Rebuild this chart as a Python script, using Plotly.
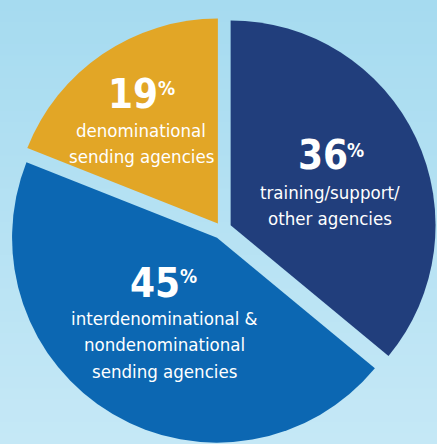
import plotly.graph_objects as go

# ---- data ----
categories = ["training/support/other agencies",
              "interdenominational & nondenominational sending agencies",
              "denominational sending agencies"]
values = [36, 45, 19]
pct_labels = ["36", "45", "19"]
desc_lines = [["training/support/", "other agencies"],
              ["interdenominational &", "nondenominational", "sending agencies"],
              ["denominational", "sending agencies"]]
colors = ["#213e7c", "#0c67b2", "#e2a626"]

W, H = 437, 444
FONT = "Liberation Sans Narrow, DejaVu Sans Condensed, Arial Narrow, sans-serif"

fig = go.Figure(go.Pie(
    labels=categories, values=values, sort=False,
    direction="clockwise", rotation=0,
    marker=dict(colors=colors, line=dict(width=0)),
    pull=[0.047, 0.047, 0.035], textinfo="none", hoverinfo="label+percent",
    showlegend=False,
    domain=dict(x=[6.8 / W, 1.0], y=[0.0, 0.9665]),
))

# background gradient
top = (166, 219, 240)
bot = (197, 232, 246)
n = 40
shapes = []
for i in range(n):
    t = i / (n - 1)
    c = tuple(int(round(top[k] + (bot[k] - top[k]) * t)) for k in range(3))
    shapes.append(dict(type="rect", xref="paper", yref="paper",
                       x0=0, x1=1, y0=1 - (i + 1) / n - 0.002, y1=1 - i / n,
                       fillcolor="rgb(%d,%d,%d)" % c, line=dict(width=0),
                       layer="below"))

# label positions (pixels from top-left)
num_pos = [(322.5, 155), (155, 282.5), (133, 94)]
pct_pos = [(355.5, 150), (188, 276), (166, 88)]
desc_x = [330, 164, 141]
desc_y0 = [192, 318, 130]
line_step = 26.5

ann = []
for i in range(3):
    x, y = num_pos[i]
    ann.append(dict(x=x / W, y=1 - y / H, xref="paper", yref="paper",
                    text="<b>%s</b>" % pct_labels[i],
                    showarrow=False, font=dict(family=FONT, size=40, color="white"),
                    xanchor="center", yanchor="middle"))
    x, y = pct_pos[i]
    ann.append(dict(x=x / W, y=1 - y / H, xref="paper", yref="paper",
                    text="<b>%</b>",
                    showarrow=False, font=dict(family=FONT, size=19, color="white"),
                    xanchor="center", yanchor="middle"))
    for j, line in enumerate(desc_lines[i]):
        y = desc_y0[i] + j * line_step
        ann.append(dict(x=desc_x[i] / W, y=1 - y / H, xref="paper", yref="paper",
                        text=line, showarrow=False,
                        font=dict(family=FONT, size=18.5, color="white"),
                        xanchor="center", yanchor="middle", align="center"))

fig.update_layout(width=W, height=H, margin=dict(l=0, r=0, t=0, b=0),
                  paper_bgcolor="rgb(180,225,243)", plot_bgcolor="rgba(0,0,0,0)",
                  shapes=shapes, annotations=ann)
fig.write_html("out.html", config={"displayModeBar": False},
               post_script="document.body.style.margin='0';document.body.style.overflow='hidden';")
